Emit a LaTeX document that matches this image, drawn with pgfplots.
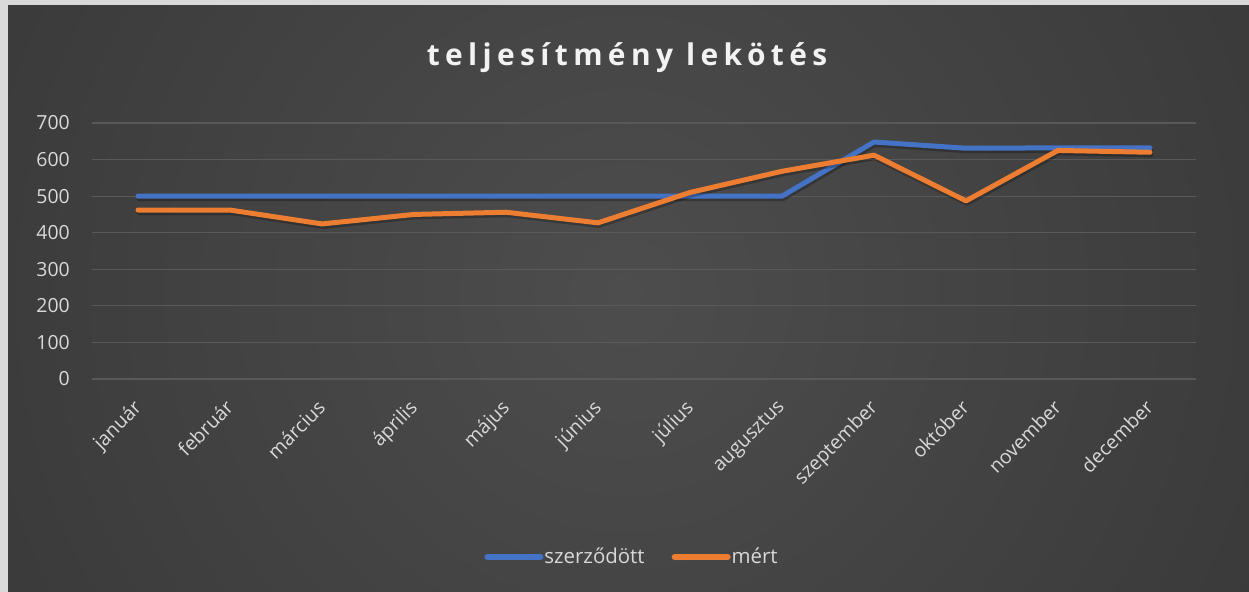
\documentclass[border=0pt]{standalone}
\usepackage{pgfplots}
\pgfplotsset{compat=1.18}
\usepackage{fontspec}
\setmainfont{Open Sans}
\newfontfamily\titlefont[LetterSpace=18]{Open Sans}
\definecolor{bgin}{HTML}{4D4D4D}
\definecolor{bgout}{HTML}{262626}
\definecolor{frame}{HTML}{D9D9D9}
\definecolor{gridc}{HTML}{595959}
\definecolor{lbl}{HTML}{D9D9D9}
\definecolor{ser1}{HTML}{4472C4}
\definecolor{ser2}{HTML}{ED7D31}
\pgfdeclareradialshading{bgshade}{\pgfpoint{0bp}{0bp}}{color(0bp)=(bgin); color(50bp)=(bgout); color(80bp)=(bgout)}
\pgfplotstableread{
x szerz mert
0 500 462
1 500 462
2 500 424
3 500 450
4 500 456
5 500 427
6 500 510
7 500 568
8 648 612
9 631 487
10 632 625
11 632 620
}\datatable
\begin{document}
\begin{tikzpicture}
\useasboundingbox (0bp,0bp) rectangle (1249bp,592bp);
\fill[frame] (0bp,0bp) rectangle (1249bp,592bp);
\begin{scope}
\clip (8bp,0bp) rectangle (1249bp,586bp);
\shade[shading=bgshade] (625bp,300bp) circle (720bp);
\end{scope}
\node[text=white!95!black, font=\titlefont\bfseries\fontsize{30}{36}\selectfont] at (627bp,534.5bp) {teljesítmény lekötés};
\begin{axis}[
  at={(92bp,213bp)}, anchor=south west,
  scale only axis, width=1104bp, height=256bp,
  xmin=-0.5, xmax=11.5, ymin=0, ymax=700,
  enlargelimits=false,
  xtick={0,...,11},
  xticklabels={január,február,március,április,május,június,július,augusztus,szeptember,október,november,december},
  ytick={0,100,...,700},
  ymajorgrids, grid style={color=gridc, line width=1.2bp},
  axis line style={draw=none}, major tick length=0pt,
  tick label style={font=\fontsize{19.5}{24}\selectfont, text=lbl},
  /pgf/number format/assume math mode=true,
  yticklabel style={anchor=east, inner sep=0pt, xshift=-22bp},
  xticklabel style={yshift=-19.5bp, xshift=-6bp, rotate=45, anchor=north east, inner sep=0pt},
  clip=false,
  legend style={at={(0.4887,-0.695)}, anchor=center, draw=none, fill=none,
    legend columns=2, font=\fontsize{20.5}{25}\selectfont, text=lbl,
    /tikz/every even column/.append style={column sep=26bp},
    nodes={inner sep=1bp}},
  legend image code/.code={\draw[#1, line width=6bp, line cap=round] (3bp,0bp) -- (56bp,0bp);},
]
\addplot[black, opacity=0.25, line width=5bp, line join=round, line cap=round, yshift=-2.5bp, xshift=1bp, forget plot] table[x=x, y=szerz] {\datatable};
\addplot[color=ser1, line width=5bp, line join=round, line cap=round] table[x=x, y=szerz] {\datatable};
\addlegendentry{szerződött}
\addplot[black, opacity=0.25, line width=5bp, line join=round, line cap=round, yshift=-2.5bp, xshift=1bp, forget plot] table[x=x, y=mert] {\datatable};
\addplot[color=ser2, line width=5bp, line join=round, line cap=round] table[x=x, y=mert] {\datatable};
\addlegendentry{mért}
\end{axis}
\end{tikzpicture}
\end{document}
